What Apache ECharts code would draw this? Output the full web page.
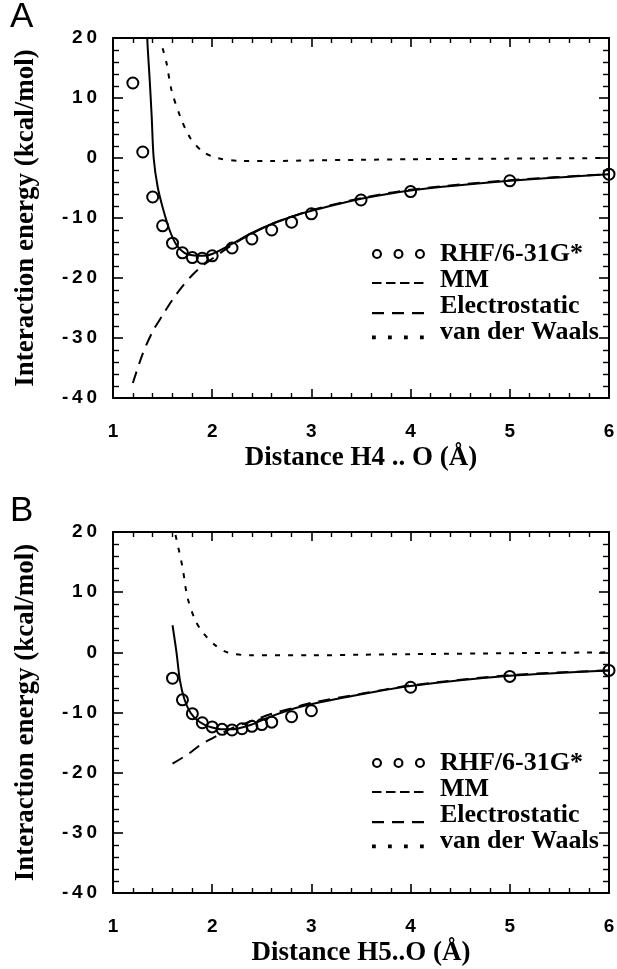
<!DOCTYPE html>
<html><head><meta charset="utf-8">
<script src="https://cdn.jsdelivr.net/npm/echarts@6/dist/echarts.min.js"></script>
<style>html,body{margin:0;padding:0;background:#fff}#c{width:617px;height:969px}</style>
</head><body><div id="c"></div>
<script>
// ---------- data ----------
const xTickValues = [1, 2, 3, 4, 5, 6];
const yTickValues = [-40, -30, -20, -10, 0, 10, 20];
const seriesNames = ['RHF/6-31G*', 'MM', 'Electrostatic', 'van der Waals'];
const panelLabels = ['A', 'B'];
const xTitles = ['Distance H4 .. O (Å)', 'Distance H5..O (Å)'];
const yTitle = 'Interaction energy (kcal/mol)';

// Panel A
const rhfA_x = [1.2, 1.3, 1.4, 1.5, 1.6, 1.7, 1.8, 1.9, 2.0, 2.2, 2.4, 2.6, 2.8, 3.0, 3.5, 4.0, 5.0, 6.0];
const rhfA_y = [12.5, 1.0, -6.5, -11.3, -14.2, -15.8, -16.6, -16.7, -16.3, -15.0, -13.5, -12.0, -10.7, -9.3, -7.0, -5.6, -3.8, -2.7];
const mmA_x = [1.3, 1.345, 1.37, 1.39, 1.41, 1.45, 1.5, 1.57, 1.64, 1.72, 1.8, 1.9, 2.0, 2.2, 2.4, 2.6, 2.8, 3.0, 3.5, 4.0, 5.0, 6.0];
const mmA_y = [40, 20, 13, 6.9, 0, -4.8, -8.2, -12, -14.5, -15.8, -16.2, -16.3, -16.0, -14.3, -12.5, -11.0, -9.8, -8.8, -6.8, -5.4, -3.8, -2.7];
const elA_x = [1.2, 1.3, 1.4, 1.5, 1.6, 1.7, 1.8, 1.9, 2.0, 2.2, 2.4, 2.6, 2.8, 3.0, 3.5, 4.0, 5.0, 6.0];
const elA_y = [-37.5, -32.6, -28.9, -26.2, -23.6, -21.4, -19.5, -18.0, -16.8, -14.5, -12.6, -11.0, -9.8, -8.7, -6.7, -5.3, -3.7, -2.7];
const vdwA_x = [1.5, 1.54, 1.59, 1.68, 1.78, 1.91, 2.05, 2.3, 2.6, 3.0, 3.5, 4.0, 5.0, 6.0];
const vdwA_y = [18.3, 15.8, 11.3, 6.8, 3.3, 1.0, 0, -0.5, -0.5, -0.4, -0.3, -0.2, -0.1, 0];

// Panel B
const rhfB_x = [1.6, 1.7, 1.8, 1.9, 2.0, 2.1, 2.2, 2.3, 2.4, 2.5, 2.6, 2.8, 3.0, 4.0, 5.0, 6.0];
const rhfB_y = [-4.3, -7.9, -10.2, -11.7, -12.4, -12.8, -12.9, -12.7, -12.3, -12.0, -11.6, -10.7, -9.7, -5.8, -4.0, -3.0];
const mmB_x = [1.6, 1.64, 1.675, 1.72, 1.78, 1.85, 1.92, 2.0, 2.1, 2.2, 2.3, 2.4, 2.6, 2.9, 3.4, 4.0, 5.0, 6.0];
const mmB_y = [4.5, 0, -4.7, -7.8, -10.0, -11.3, -12.0, -12.5, -12.8, -12.8, -12.5, -12.0, -10.6, -9.0, -7.3, -5.6, -3.9, -3.0];
const elB_x = [1.6, 1.75, 1.88, 2.0, 2.2, 2.4, 2.6, 2.8, 3.0, 3.5, 4.0, 5.0, 6.0];
const elB_y = [-18.5, -17.0, -15.4, -14.3, -12.6, -11.4, -10.2, -9.3, -8.4, -6.9, -5.5, -3.8, -3.0];
const vdwB_x = [1.63, 1.7, 1.75, 1.83, 1.91, 2.03, 2.15, 2.38, 3.0, 3.5, 4.0, 5.0, 6.0];
const vdwB_y = [19.5, 14.2, 9.2, 5.3, 3.2, 1.2, 0, -0.5, -0.5, -0.4, -0.3, -0.15, 0];

// ---------- helpers ----------
const pairs = (xs, ys) => xs.map((x, i) => [x, ys[i]]);
const spaced = v => String(v).split('').join('\u2009');
const BLACK = '#000';
const SANS = '"Liberation Sans", Arial, sans-serif';
const SERIF = '"Liberation Serif", "Times New Roman", serif';

const speck = 'M0,0h0.01v0.01h-0.01Z M53,18h0.01v0.01h-0.01Z';
function ring(cx, cy, R, r) {
  return `M${cx - R},${cy}A${R},${R},0,1,1,${cx + R},${cy}A${R},${R},0,1,1,${cx - R},${cy}Z` +
         `M${cx - r},${cy}A${r},${r},0,1,0,${cx + r},${cy}A${r},${r},0,1,0,${cx - r},${cy}Z`;
}
function rects(xs, w, y, h) { return xs.map(x => `M${x},${y}h${w}v${h}h${-w}Z`).join(' '); }
const icons = [
  'path://' + speck + ' ' + ring(5, 9, 5, 2.9) + ring(26.5, 9, 5, 2.9) + ring(48, 9, 5, 2.9),
  'path://' + speck + ' ' + rects([0, 14, 28, 42], 9.5, 11, 2),
  'path://' + speck + ' ' + rects([0, 20, 40], 12, 15, 2.2),
  'path://' + speck + ' ' + rects([0, 16, 32, 48], 3.8, 12.5, 3.8)
];

function makeLegend(top) {
  return {
    left: 372, top: top, orient: 'vertical', padding: 0, itemGap: 0,
    itemWidth: 53, itemHeight: 18, selectedMode: false,
    textStyle: { fontFamily: SERIF, fontWeight: 'bold', fontSize: 26, color: BLACK, lineHeight: 26, padding: [0, 0, 0, 10] },
    data: seriesNames.map((n, i) => ({ name: n, icon: icons[i], itemStyle: { color: BLACK, borderWidth: 0, opacity: 1 } }))
  };
}

function xAxisPair(grid, title) {
  const common = {
    type: 'value', gridIndex: grid, min: 1, max: 6, interval: 1,
    axisLine: { show: true, onZero: false, lineStyle: { color: BLACK, width: 2 } },
    axisTick: { show: true, inside: true, length: 9, lineStyle: { color: BLACK, width: 1.6 } },
    minorTick: { show: true, splitNumber: 5, length: 5, lineStyle: { color: BLACK, width: 1.4 } },
    splitLine: { show: false }, minorSplitLine: { show: false }
  };
  return [
    Object.assign({}, common, {
      position: 'bottom',
      name: title, nameLocation: 'middle', nameGap: 47,
      nameTextStyle: { fontFamily: SERIF, fontWeight: 'bold', fontSize: 27, color: BLACK },
      axisLabel: { show: true, margin: 24, fontFamily: SANS, fontWeight: 'bold', fontSize: 19, color: BLACK, formatter: spaced }
    }),
    Object.assign({}, common, { position: 'top', axisLabel: { show: false } })
  ];
}
function yAxisPair(grid) {
  const common = {
    type: 'value', gridIndex: grid, min: -40, max: 20, interval: 10,
    axisLine: { show: true, onZero: false, lineStyle: { color: BLACK, width: 2 } },
    axisTick: { show: true, inside: true, length: 10, lineStyle: { color: BLACK, width: 1.6 } },
    minorTick: { show: true, splitNumber: 5, length: 6, lineStyle: { color: BLACK, width: 1.4 } },
    splitLine: { show: false }, minorSplitLine: { show: false }
  };
  return [
    Object.assign({}, common, {
      position: 'left',
      name: yTitle, nameLocation: 'middle', nameGap: 73, nameRotate: 90,
      nameTextStyle: { fontFamily: SERIF, fontWeight: 'bold', fontSize: 27, color: BLACK },
      axisLabel: { show: true, margin: 16, fontFamily: SANS, fontWeight: 'bold', fontSize: 19, color: BLACK, formatter: spaced }
    }),
    Object.assign({}, common, { position: 'right', axisLabel: { show: false } })
  ];
}

function panelSeries(axisIdx, rx, ry, mx, my, ex, ey, vx, vy) {
  const lineBase = { type: 'line', xAxisIndex: axisIdx, yAxisIndex: axisIdx, showSymbol: false, symbol: 'none', clip: true, smooth: 0.3, silent: true, z: 2 };
  return [
    { type: 'scatter', name: seriesNames[0], xAxisIndex: axisIdx, yAxisIndex: axisIdx, data: pairs(rx, ry),
      symbol: 'circle', symbolSize: 11, z: 5, silent: true,
      itemStyle: { color: 'rgba(255,255,255,0)', borderColor: BLACK, borderWidth: 2, opacity: 1 } },
    Object.assign({}, lineBase, { name: seriesNames[1], data: pairs(mx, my), lineStyle: { color: BLACK, width: 2, type: 'solid' }, itemStyle: { color: BLACK } }),
    Object.assign({}, lineBase, { name: seriesNames[2], data: pairs(ex, ey), lineStyle: { color: BLACK, width: 2, type: [12, 8] }, itemStyle: { color: BLACK } }),
    Object.assign({}, lineBase, { name: seriesNames[3], data: pairs(vx, vy), lineStyle: { color: BLACK, width: 2, type: [5, 8] }, itemStyle: { color: BLACK } })
  ];
}

const xa = xAxisPair(0, xTitles[0]).concat(xAxisPair(1, xTitles[1]));
const ya = yAxisPair(0).concat(yAxisPair(1));

const option = {
  backgroundColor: '#fff',
  animation: false,
  title: [
    { text: panelLabels[0], left: 10, top: 0, padding: 0, textStyle: { fontFamily: SANS, fontWeight: 'normal', fontSize: 35, color: BLACK } },
    { text: panelLabels[1], left: 10, top: 494, padding: 0, textStyle: { fontFamily: SANS, fontWeight: 'normal', fontSize: 35, color: BLACK } }
  ],
  legend: [makeLegend(241), makeLegend(750)],
  grid: [
    { left: 113, top: 38, width: 496, height: 360, containLabel: false, outerBoundsMode: 'none' },
    { left: 113, top: 532, width: 496, height: 361, containLabel: false, outerBoundsMode: 'none' }
  ],
  xAxis: xa,
  yAxis: ya,
  series: panelSeries(0, rhfA_x, rhfA_y, mmA_x, mmA_y, elA_x, elA_y, vdwA_x, vdwA_y)
    .concat(panelSeries(2, rhfB_x, rhfB_y, mmB_x, mmB_y, elB_x, elB_y, vdwB_x, vdwB_y))
};

const chart = echarts.init(document.getElementById('c'), null, { renderer: 'canvas' });
chart.setOption(option);
</script>
</body></html>
